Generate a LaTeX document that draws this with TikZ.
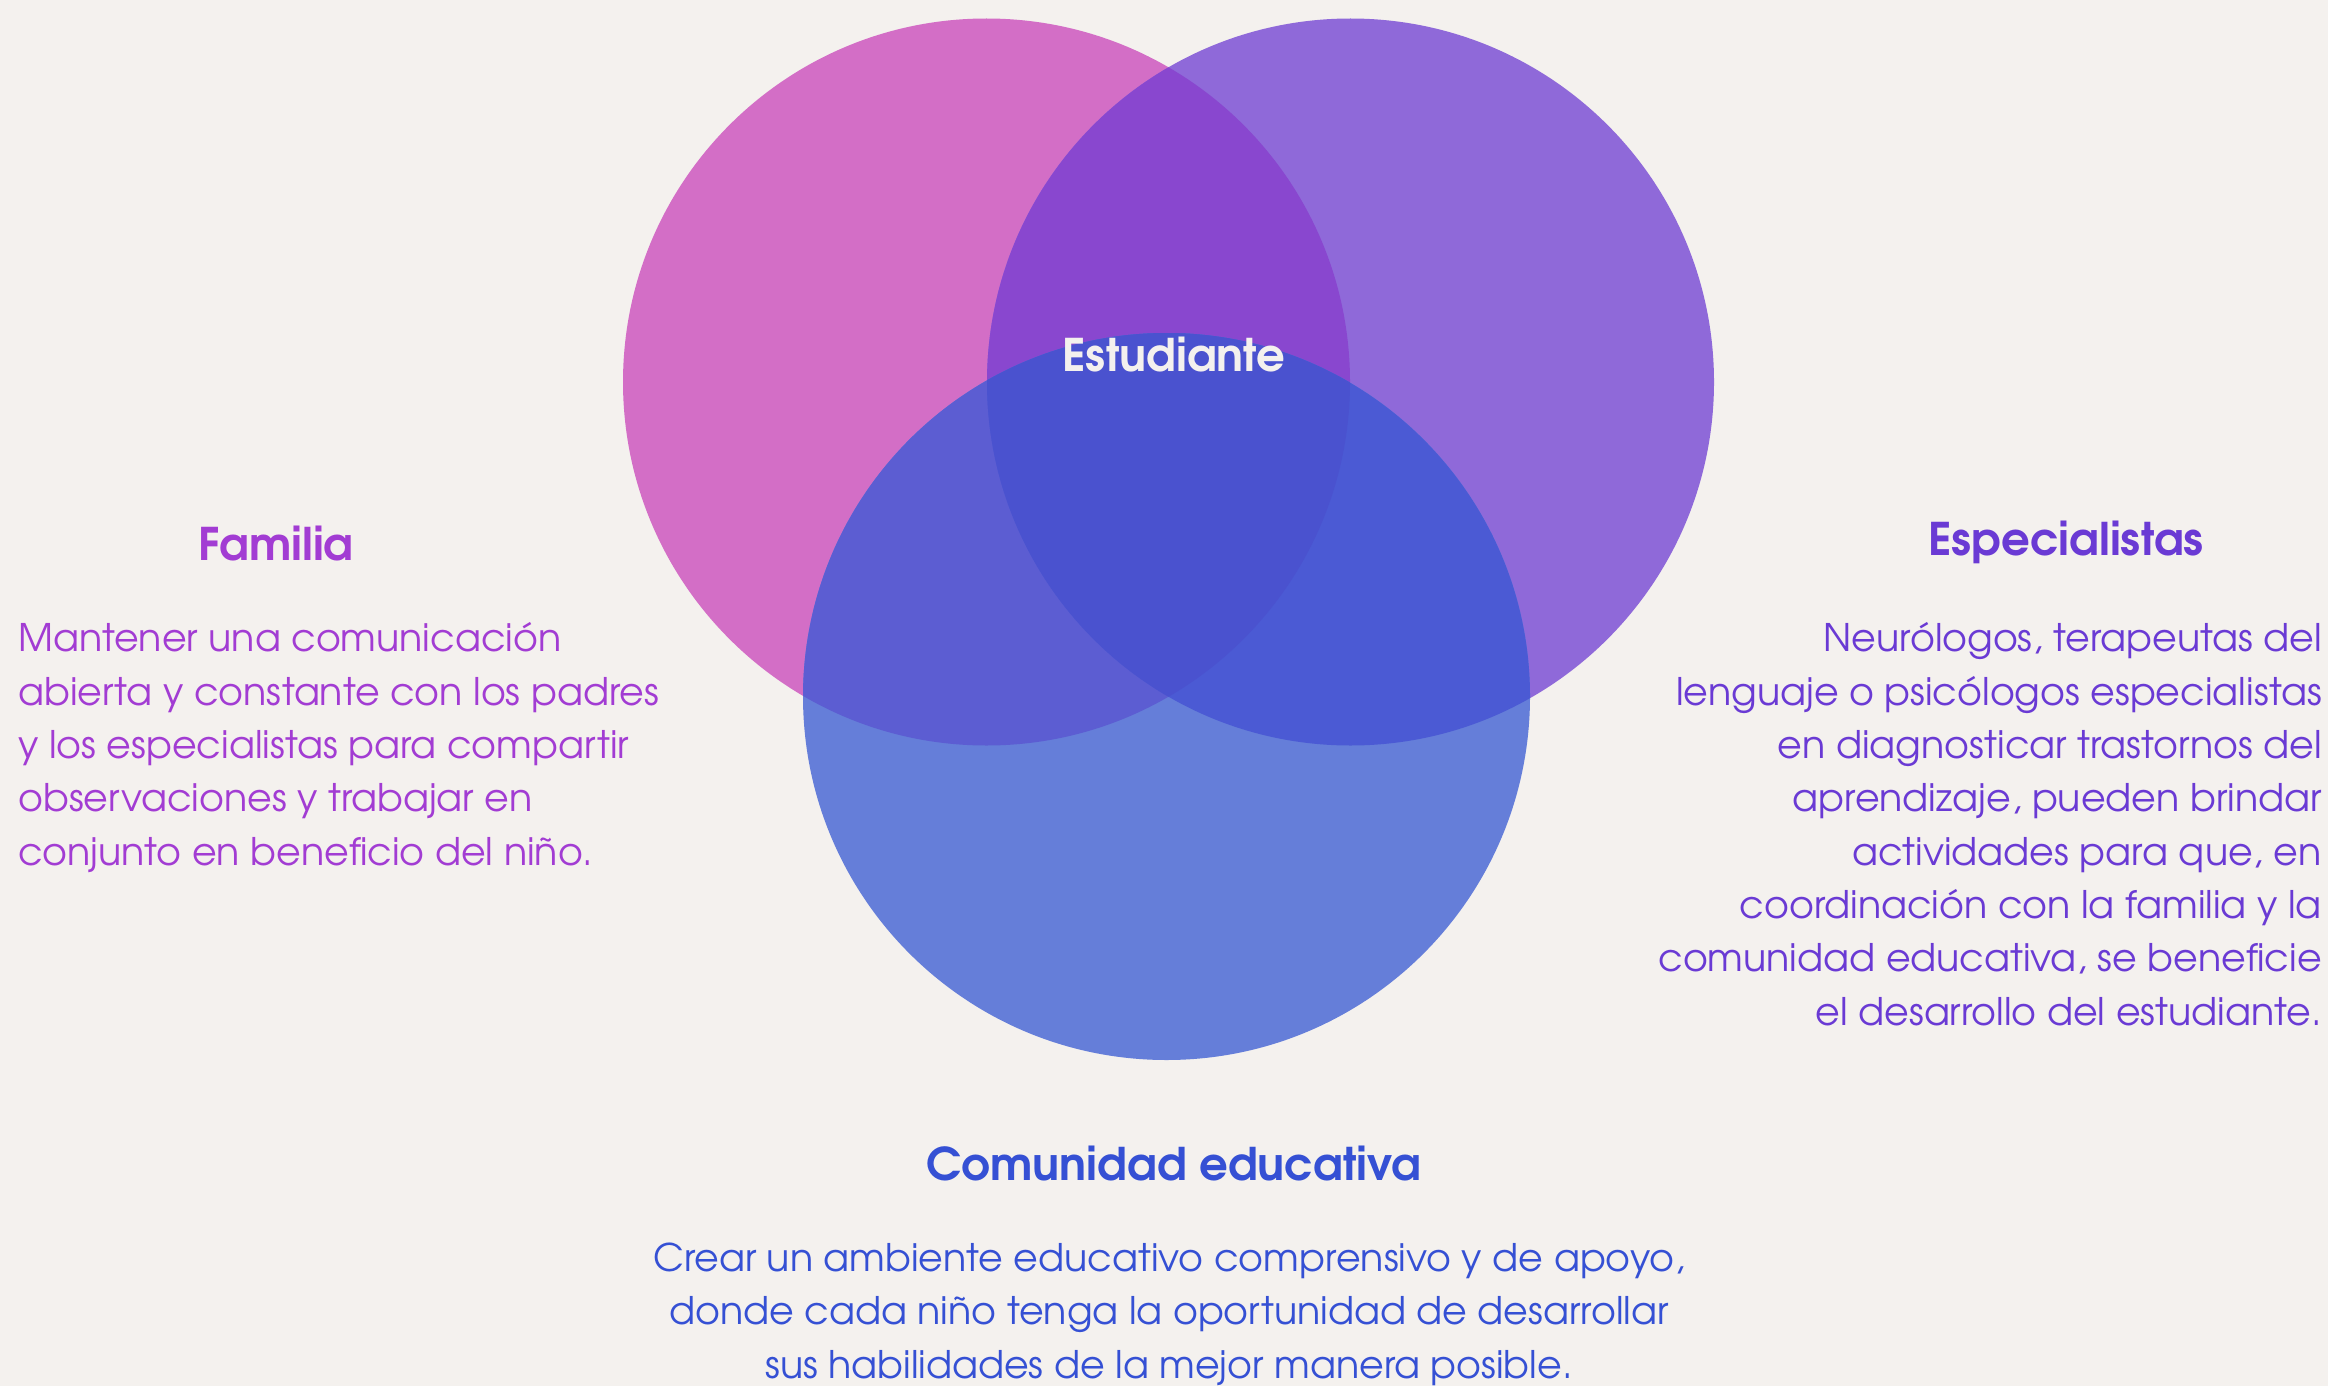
\documentclass[tikz,border=0pt]{standalone}
\usepackage{fontspec}
\setmainfont{TeX Gyre Adventor}
\definecolor{bg}{HTML}{F4F1EE}
\definecolor{cpink}{HTML}{D36EC6}
\definecolor{cpurple}{HTML}{8F69D9}
\definecolor{cblue}{HTML}{657ED9}
\definecolor{cpp}{HTML}{8947CF}
\definecolor{cpb}{HTML}{5C5DD2}
\definecolor{cvb}{HTML}{4B5AD4}
\definecolor{call}{HTML}{4A52CF}
\definecolor{cfam}{HTML}{A23CD3}
\definecolor{cesp}{HTML}{6A3AD4}
\definecolor{ccom}{HTML}{3550D4}
\tikzset{
  titletext/.style={font=\bfseries\fontsize{45}{54}\selectfont, inner sep=0pt},
  bodytext/.style={font=\fontsize{38}{53.3}\selectfont, inner sep=0pt},
}
\begin{document}
\begin{tikzpicture}[x=1pt,y=-1pt]
\fill[bg] (0,0) rectangle (2328,1386);
\useasboundingbox (0,0) rectangle (2328,1386);
\coordinate (cp) at (986.5,382);
\coordinate (cv) at (1350.5,382);
\coordinate (cb) at (1166.5,696.5);
\fill[cpink] (cp) circle[radius=363.5pt];
\fill[cpurple] (cv) circle[radius=363.5pt];
\begin{scope}\clip (cp) circle[radius=363.5pt]; \fill[cpp] (cv) circle[radius=363.5pt];\end{scope}
\fill[cblue] (cb) circle[radius=363.5pt];
\begin{scope}\clip (cp) circle[radius=363.5pt]; \fill[cpb] (cb) circle[radius=363.5pt];\end{scope}
\begin{scope}\clip (cv) circle[radius=363.5pt]; \fill[cvb] (cb) circle[radius=363.5pt];\end{scope}
\begin{scope}\clip (cp) circle[radius=363.5pt]; \clip (cv) circle[radius=363.5pt]; \fill[call] (cb) circle[radius=363.5pt];\end{scope}

\node[titletext, text=bg, anchor=base] (est) at (1174,371) {Estudiante};

\node[titletext, text=cfam, anchor=base] (famt) at (276,560) {Familia};
\node[bodytext, text=cfam, align=left, anchor=base west] (famb) at (18,865) {Mantener una comunicación\\abierta y constante con los padres\\y los especialistas para compartir\\observaciones y trabajar en\\conjunto en beneficio del niño.};

\node[titletext, text=cesp, anchor=base] (espt) at (2066,555) {Especialistas};
\node[bodytext, text=cesp, align=right, anchor=base east] (espb) at (2322,1025) {Neurólogos, terapeutas del\\lenguaje o psicólogos especialistas\\en diagnosticar trastornos del\\aprendizaje, pueden brindar\\actividades para que, en\\coordinación con la familia y la\\comunidad educativa, se beneficie\\el desarrollo del estudiante.};

\node[titletext, text=ccom, anchor=base] (comt) at (1174,1180) {Comunidad educativa};
\node[bodytext, text=ccom, align=center, anchor=base] (comb) at (1169,1378) {Crear un ambiente educativo comprensivo y de apoyo,\\donde cada niño tenga la oportunidad de desarrollar\\sus habilidades de la mejor manera posible.};
\end{tikzpicture}
\end{document}
